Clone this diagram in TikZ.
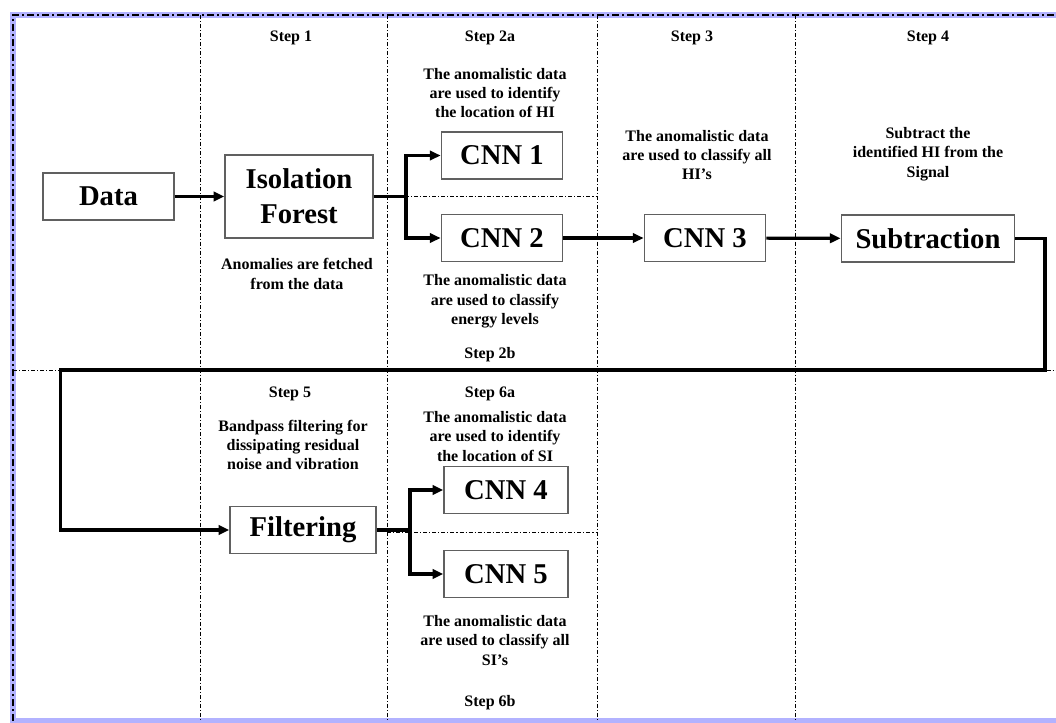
\documentclass[tikz,border=0pt]{standalone}
\usepackage{fontspec}
\setmainfont{Liberation Serif}
\usetikzlibrary{arrows.meta}
\tikzset{
  blk/.style={draw=gray!75!black, line width=1.1pt, fill=white, inner sep=0pt,
    minimum height=35.5pt, align=center, font=\bfseries\fontsize{21.5}{26}\selectfont},
  note/.style={align=center, inner sep=0pt, font=\bfseries\fontsize{12}{14.5}\selectfont},
  flow/.style={line width=2.4pt, -{Triangle[length=8pt,width=7pt]}},
  sep/.style={line width=0.6pt, dash pattern=on 3pt off 1.5pt on 0.8pt off 1.5pt}
}
\begin{document}
\begin{tikzpicture}[x=0.75pt,y=-0.75pt]
\useasboundingbox (0,0) rectangle (1056,722);
% frame
\draw[line width=4.5pt, blue!30] (13,15) rectangle (1075,721);
\draw[line width=2pt, dash pattern=on 5.25pt off 2.25pt on 1.5pt off 2.25pt] (13,721) -- (13,15) -- (1075,15);
% separators
\foreach \x in {200,387,597,795}
  \draw[sep] (\x,15) -- (\x,722);
\draw[sep] (13,370) -- (1056,370);
\draw[sep] (387,196) -- (597,196);
\draw[sep] (387,532) -- (597,532);

% boxes
\node[blk, minimum width=98pt] (data) at (108.5,196.5) {Data};
\node[blk, minimum width=111pt, minimum height=62pt] (iso) at (299,196.5) {Isolation\\Forest};
\node[blk, minimum width=91pt] (cnn1) at (502,155.5) {CNN 1};
\node[blk, minimum width=91pt] (cnn2) at (502,238) {CNN 2};
\node[blk, minimum width=91pt] (cnn3) at (705,238) {CNN 3};
\node[blk, minimum width=130pt] (sub) at (928,238.5) {Subtraction};
\node[blk, minimum width=109.5pt] (filt) at (303,530) {Filtering};
\node[blk, minimum width=93pt] (cnn4) at (506,490) {CNN 4};
\node[blk, minimum width=93pt] (cnn5) at (506,574) {CNN 5};

% labels
\node[note] (s1) at (291,38) {Step 1};
\node[note] (s2a) at (490,38) {Step 2a};
\node[note] (s3) at (692,38) {Step 3};
\node[note] (s4) at (928,38) {Step 4};
\node[note] (t2a) at (495,93) {The anomalistic data\\are used to identify\\the location of HI};
\node[note] (t3) at (697,155) {The anomalistic data\\are used to classify all\\HI’s};
\node[note] (t4) at (928,154) {Subtract the\\identified HI from the\\Signal};
\node[note] (t1) at (297,274) {Anomalies are fetched\\from the data};
\node[note] (t2b) at (495,301.5) {The anomalistic data\\are used to classify\\energy levels};
\node[note] (s2b) at (490,355) {Step 2b};
\node[note] (s5) at (290,394) {Step 5};
\node[note] (t5) at (293,445) {Bandpass filtering for\\dissipating residual\\noise and vibration};
\node[note] (s6a) at (490,394) {Step 6a};
\node[note] (t6a) at (495,436.5) {The anomalistic data\\are used to identify\\the location of SI};
\node[note] (t6b) at (495,640.5) {The anomalistic data\\are used to classify all\\SI’s};
\node[note] (s6b) at (490,703) {Step 6b};

% connectors
\coordinate (j1) at (406,196.5);
\coordinate (j2) at (410,530);
\coordinate (r1) at (1045,370);
\coordinate (r2) at (60.5,370);
\draw[flow] (data) -- (iso);
\draw[flow] (iso.east) -- (j1) |- (cnn1);
\draw[flow] (j1) |- (cnn2);
\draw[flow] (cnn2) -- (cnn3);
\draw[flow] (cnn3) -- (sub);
\draw[flow] (sub.east) -| (r1) -- (r2) |- (filt);
\draw[flow] (filt.east) -- (j2) |- (cnn4);
\draw[flow] (j2) |- (cnn5);
\end{tikzpicture}
\end{document}
